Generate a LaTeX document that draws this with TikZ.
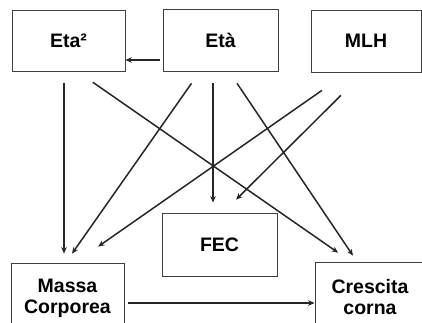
\documentclass[tikz,border=0pt]{standalone}
\usepackage{fontspec}
\setmainfont{Liberation Sans}
\usetikzlibrary{arrows.meta}
\tikzstyle{diagram}=[
  x=1pt,y=-1pt,>={Stealth[length=6.5pt,width=5.5pt]},font=\bfseries\fontsize{19.5}{21}\selectfont
]
\tikzstyle{varbox}=[
  draw=black!75,line width=0.8pt,inner sep=0pt,align=center
]
\tikzstyle{causal}=[
  ->,line width=1.5pt,draw=black!85
]

\begin{document}
\begin{tikzpicture}[diagram]
    \useasboundingbox (0,0) rectangle (422,322);
    \clip (0,0) rectangle (422,322);
    \node (eta2) at (68.5,40.5) [varbox,minimum width=113pt,minimum height=61pt] {Eta²};
    \node (eta) at (220.5,40) [varbox,minimum width=115pt,minimum height=62pt] {Età};
    \node (mlh) at (366,41) [varbox,minimum width=110pt,minimum height=62pt] {MLH};
    \node (fec) at (219.5,244.5) [varbox,minimum width=115pt,minimum height=63pt] {FEC};
    \node (massa) at (67.5,298) [varbox,minimum width=113pt,minimum height=70pt] {Massa\\Corporea};
    \node (crescita) at (370,297) [varbox,minimum width=110pt,minimum height=70pt] {Crescita\\corna};
    % eta e eta^2
    \draw [causal,shorten <=3pt] ([yshift=-20pt]eta.west) -- ([yshift=-20pt]eta.west -| eta2.east);
    \draw [causal,shorten <=12pt,shorten >=9pt] ([xshift=-4.5pt]eta2.south) -- ([xshift=-4.5pt]eta2.south |- massa.north);
    \draw [causal,shorten <=19pt,shorten >=15.7pt] ([xshift=8.7pt]eta2.south) -- ([xshift=-19pt]crescita.north);
    \draw [causal,shorten <=14.6pt,shorten >=11pt] ([xshift=-20.6pt]eta.south) -- ([xshift=-1.8pt]massa.north);
    \draw [causal,shorten <=12pt,shorten >=10pt] ([xshift=-7.5pt]eta.south) -- ([xshift=-7.5pt]eta.south |- fec.north);
    \draw [causal,shorten <=14.4pt,shorten >=7.2pt] ([xshift=8.5pt]eta.south) -- ([xshift=-13pt]crescita.north);
    % MLH
    \draw [causal,shorten <=31.4pt,shorten >=27.9pt] ([xshift=-18.3pt]mlh.south) -- ([xshift=7.7pt]massa.north);
    \draw [causal,shorten <=32.5pt,shorten >=18.4pt] ([xshift=-2pt]mlh.south) -- ([xshift=3.5pt]fec.north);
    \draw [causal,shorten <=4pt] ([yshift=-5pt]massa.east) -- ([yshift=-5pt]massa.east -| crescita.west);
\end{tikzpicture}
\end{document}
